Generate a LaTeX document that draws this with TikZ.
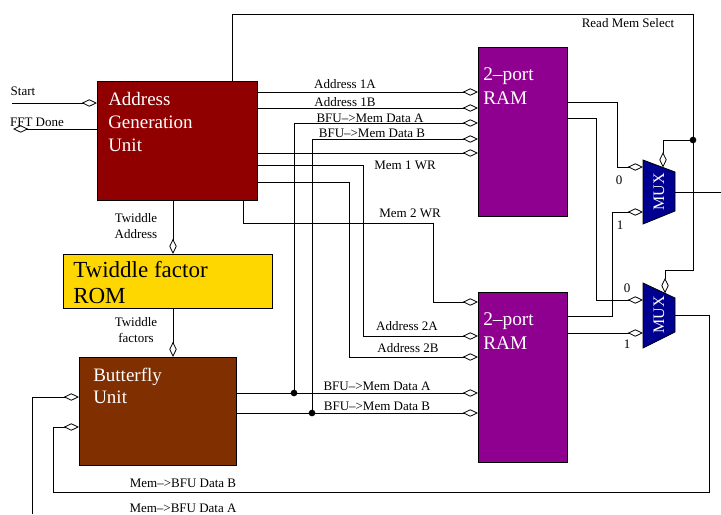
\documentclass[tikz,border=0pt]{standalone}
\usepackage{fontspec}
\setmainfont{Liberation Serif}
\usepackage{tikz}
\usetikzlibrary{positioning,arrows.meta}

\definecolor{agured}{RGB}{144,0,0}
\definecolor{romgold}{RGB}{255,215,0}
\definecolor{bfubrown}{RGB}{128,48,0}
\definecolor{rampurple}{RGB}{144,0,144}
\definecolor{muxblue}{RGB}{0,0,144}

\begin{document}
\begin{tikzpicture}[x=0.75pt,y=0.75pt,yscale=-1,xscale=1,
  blockbox/.style={draw, line width=0.6pt, inner sep=0pt, outer sep=0pt, anchor=north west},
  boxtext/.style={inner sep=0pt, anchor=north west, align=left},
  sig/.style={line width=0.6pt, -{Diamond[open,length=11.5pt,width=5.5pt]}},
  wire/.style={line width=0.6pt},
  lbl/.style={font=\fontsize{9.75}{11.5}\selectfont, inner sep=0pt, align=center},
  joint/.style={circle, fill, inner sep=0pt, minimum size=5pt},
  muxshape/.style={draw, line width=0.6pt, fill=muxblue}
]
\useasboundingbox (0,0) rectangle (721,514);

% Blocks
\node[blockbox, fill=agured, minimum width=120pt, minimum height=89.25pt] (agu) at (97,81) {};
\node[boxtext, text=white, font=\fontsize{14.25}{17.25}\selectfont] (agutxt) at (108,92.5) {Address\\Generation\\Unit};

\node[blockbox, fill=romgold, minimum width=156.75pt, minimum height=40.5pt] (rom) at (63,254) {};
\node[boxtext, font=\fontsize{17.25}{19.5}\selectfont] (romtxt) at (73,261) {Twiddle factor\\ROM};

\node[blockbox, fill=bfubrown, minimum width=117.75pt, minimum height=81pt] (bfu) at (79,357) {};
\node[boxtext, text=white, font=\fontsize{14.25}{16.5}\selectfont] (bfutxt) at (93,367.5) {Butterfly\\Unit};

\node[blockbox, fill=rampurple, minimum width=66.75pt, minimum height=126.75pt] (ram1) at (478,47) {};
\node[boxtext, text=white, font=\fontsize{14.5}{18}\selectfont] (ram1txt) at (483,67) {2–port\\RAM};

\node[blockbox, fill=rampurple, minimum width=66.75pt, minimum height=127.5pt] (ram2) at (478,292) {};
\node[boxtext, text=white, font=\fontsize{14.5}{18}\selectfont] (ram2txt) at (483,312) {2–port\\RAM};

% Multiplexers
\draw[muxshape] (643,160) -- (675,172) -- (675,211) -- (643,224) -- cycle;
\node[rotate=90, text=white, inner sep=0pt, font=\fontsize{12}{14}\selectfont] (mux1txt) at (659,192) {MUX};
\coordinate (m1in0) at (643,167);
\coordinate (m1in1) at (643,212);
\coordinate (m1sel) at (663,167.5);
\coordinate (m1out) at (675,192);

\draw[muxshape] (643,283) -- (675,298) -- (675,332) -- (643,348) -- cycle;
\node[rotate=90, text=white, inner sep=0pt, font=\fontsize{12}{14}\selectfont] (mux2txt) at (659,315) {MUX};
\coordinate (m2in0) at (643,300);
\coordinate (m2in1) at (643,333);
\coordinate (m2sel) at (665,293.3);
\coordinate (m2out) at (675,315);

% Junctions
\node[joint] (j1) at (294,393) {};
\node[joint] (j2) at (312,413) {};
\node[joint] (sel) at (693,140) {};

% Control
\coordinate (startin) at (12,103);
\coordinate (doneout) at (13,129);
\draw[sig] (startin) -- (agu.west |- startin);
\draw[sig] (agu.west |- doneout) -- (doneout);

% Memory 1 inputs
\draw[sig] (agu.east |- 0,92) -- (ram1.west |- 0,92);
\draw[sig] (agu.east |- 0,108) -- (ram1.west |- 0,108);
\draw[sig] (j1.center) |- (ram1.west |- 0,123);
\draw[sig] (j2.center) |- (ram1.west |- 0,139);
\draw[sig] (agu.east |- 0,153) -- (ram1.west |- 0,153);

% Memory 2 inputs
\draw[sig] (agu.east |- 0,165) -| (363,336) -- (ram2.west |- 0,336);
\draw[sig] (agu.east |- 0,182) -| (349,357) -- (ram2.west |- 0,357);
\draw[sig] (agu.south -| 243,0) |- (433,223) |- (ram2.west |- 0,302);
\draw[sig] (bfu.east |- 0,393) -- (ram2.west |- 0,393);
\draw[sig] (bfu.east |- 0,413) -- (ram2.west |- 0,413);

% Twiddle path
\draw[sig] (agu.south -| 173,0) -- (rom.north -| 173,0);
\draw[sig] (rom.south -| 173,0) -- (bfu.north -| 173,0);

% Read select
\draw[wire] (agu.north -| 232,0) |- (693,14) -- (sel.center);
\draw[sig] (sel.center) -| (m1sel);
\draw[sig] (sel.center) |- (665,270) -- (m2sel);

% Memory outputs
\draw[sig] (ram1.east |- 0,102) -| (617,167) -- (m1in0);
\draw[sig] (ram1.east |- 0,118) -| (596,300) -- (m2in0);
\draw[sig] (ram2.east |- 0,316) -| (612,212) -- (m1in1);
\draw[sig] (ram2.east |- 0,333) -- (m2in1);

% Back to butterfly
\coordinate (dataAend) at (721,192);
\coordinate (dataAret) at (32,514);
\draw[wire] (m1out) -- (dataAend);
\draw[sig] (m2out) -| (709,492) -| (53,427) -- (bfu.west |- 0,427);
\draw[sig] (dataAret) |- (bfu.west |- 0,397);

% Labels
\node[lbl] (lstart) at (23,91) {Start};
\node[lbl] (ldone) at (37,122) {FFT Done};
\node[lbl] (l1a) at (345,84) {Address 1A};
\node[lbl] (l1b) at (345,102) {Address 1B};
\node[lbl] (ld1a) at (370,118) {BFU–>Mem Data A};
\node[lbl] (ld1b) at (372,133) {BFU–>Mem Data B};
\node[lbl] (lwr1) at (405,165) {Mem 1 WR};
\node[lbl] (lwr2) at (410,213) {Mem 2 WR};
\node[lbl] (l2a) at (407,326) {Address 2A};
\node[lbl] (l2b) at (408,348) {Address 2B};
\node[lbl] (ld2a) at (377,386) {BFU–>Mem Data A};
\node[lbl] (ld2b) at (377,406) {BFU–>Mem Data B};
\node[lbl] (lmb) at (183,483) {Mem–>BFU Data B};
\node[lbl] (lma) at (183,508) {Mem–>BFU Data A};
\node[lbl] (ltwa) at (136,226) {Twiddle\\Address};
\node[lbl] (ltwf) at (136,330) {Twiddle\\factors};
\node[lbl] (lsel) at (628,23) {Read Mem Select};
\node[lbl] (lm10) at (619,180) {0};
\node[lbl] (lm11) at (620,225) {1};
\node[lbl] (lm20) at (627,288) {0};
\node[lbl] (lm21) at (627,344) {1};

\end{tikzpicture}
\end{document}
